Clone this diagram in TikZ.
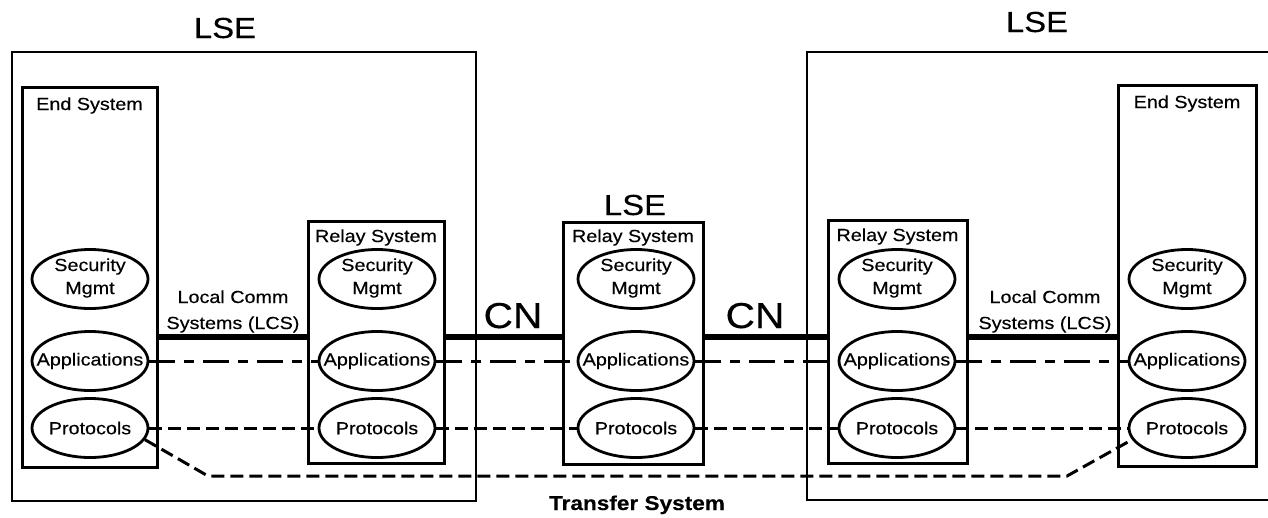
\documentclass[tikz,border=0pt]{standalone}
\usepackage{fontspec}
\setmainfont[FakeStretch=1.13,FakeBold=0.35]{Liberation Sans}
\usetikzlibrary{shapes.geometric,calc}

\begin{document}
\begin{tikzpicture}[x=1pt,y=-1pt,
  lsebox/.style={draw, line width=2.6pt},
  sysbox/.style={draw, rectangle, line width=3pt, inner sep=0pt},
  func/.style={draw, ellipse, line width=2.8pt, minimum width=116pt,
    minimum height=59pt, inner sep=0pt},
  ftxt/.style={align=center, inner sep=0pt, font=\fontsize{17.5}{23}\selectfont},
  lbl/.style={font=\fontsize{17.5}{22}\selectfont, anchor=base, inner sep=0pt},
  biglbl/.style={font=\fontsize{29}{34}\selectfont, anchor=base, inner sep=0pt},
  cnlbl/.style={font=\fontsize{36}{40}\selectfont, anchor=base, inner sep=0pt},
  comm/.style={line width=5.5pt},
  appline/.style={line width=3pt, dash pattern=on 26pt off 9pt on 10pt off 9pt},
  protline/.style={line width=3pt, dash pattern=on 13pt off 6pt},
]
\useasboundingbox (0,0) rectangle (1268,517);

% local system environments
\draw[lsebox] (12,52) rectangle (476,501);
\draw[lsebox] (1275,52) -- (807,52) -- (807,500) -- (1275,500);
\node[biglbl] (lseL) at (225,38) {LSE};
\node[biglbl] (lseC) at (635,215) {LSE};
\node[biglbl] (lseR) at (1037,32) {LSE};

% end and relay systems
\node[sysbox, minimum width=135pt, minimum height=380pt] (les) at (89.5,277) {};
\node[sysbox, minimum width=136pt, minimum height=242pt] (lrs) at (376,342) {};
\node[sysbox, minimum width=140pt, minimum height=242pt] (crs) at (633,343) {};
\node[sysbox, minimum width=139pt, minimum height=243pt] (rrs) at (897.5,341.5) {};
\node[sysbox, minimum width=138pt, minimum height=381pt] (res) at (1187,275.5) {};

\node[lbl] (lesT) at (89.5,110) {End System};
\node[lbl] (resT) at (1187,108) {End System};
\node[lbl] (lrsT) at (376,242) {Relay System};
\node[lbl] (crsT) at (633,242) {Relay System};
\node[lbl] (rrsT) at (897.5,241) {Relay System};

% functional elements
\foreach \n/\x in {a/90, b/377, c/636, d/897, e/1187} {
  \node[func] (sec\n) at (\x,279) {};
  \node[ftxt] (sect\n) at ([yshift=1pt]sec\n.center) {Security\\Mgmt};
  \node[func] (app\n) at (\x,361) {};
  \node[ftxt] (appt\n) at (app\n.center) {Applications};
  \node[func] (pro\n) at (\x,428) {};
  \node[ftxt] (prot\n) at (pro\n.center) {Protocols};
}

% communication networks
\coordinate (cy) at (0,337);
\draw[comm] (les.east |- cy) -- (lrs.west |- cy);
\draw[comm] (lrs.east |- cy) -- (crs.west |- cy);
\draw[comm] (crs.east |- cy) -- (rrs.west |- cy);
\draw[comm] (rrs.east |- cy) -- (res.west |- cy);

\node[lbl] (lcsL1) at (233,303) {Local Comm};
\node[lbl] (lcsL2) at (233,329) {Systems (LCS)};
\node[lbl] (lcsR1) at (1045,303) {Local Comm};
\node[lbl] (lcsR2) at (1045,329) {Systems (LCS)};
\node[cnlbl] (cnL) at (513,328) {CN};
\node[cnlbl] (cnR) at (755,328) {CN};

% peer relations
\draw[appline] (appa.east) -- (appb.west);
\draw[appline] (appb.east) -- (appc.west);
\draw[appline] (appc.east) -- (appd.west);
\draw[appline] (appd.east) -- (appe.west);

\draw[protline] (proa.east) -- (prob.west);
\draw[protline] (prob.east) -- (proc.west);
\draw[protline] (proc.east) -- (prod.west);
\draw[protline] (prod.east) -- (proe.west);

% transfer system path
\coordinate (tA) at (208,476);
\coordinate (tB) at (1067,476);
\draw[protline] (proa.-12) -- (tA) -- (tB) -- (proe.192);
\node[font=\fontsize{20}{24}\selectfont\bfseries, anchor=base, inner sep=0pt]
  (tsys) at (637,510) {Transfer System};
\end{tikzpicture}
\end{document}
